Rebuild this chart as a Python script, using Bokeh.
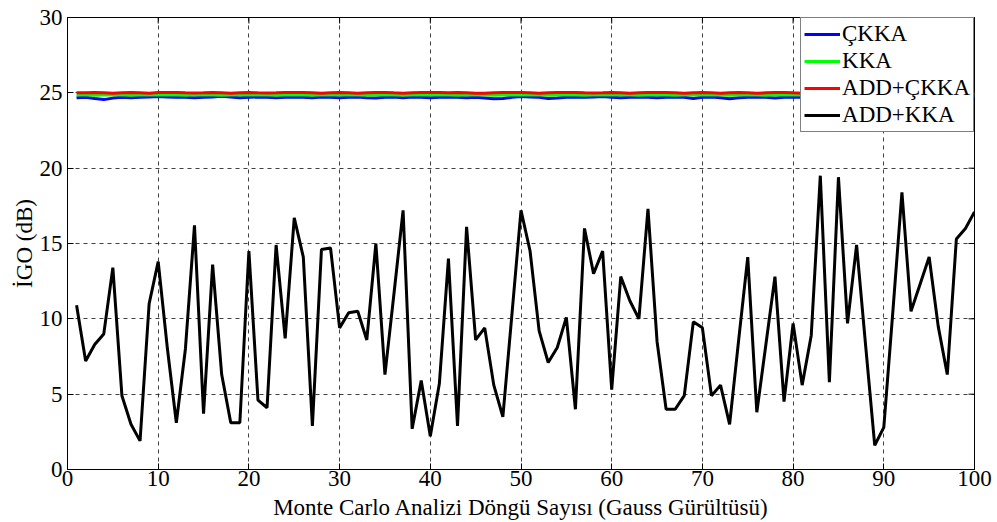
from bokeh.plotting import figure
from bokeh.models import Range1d, FixedTicker, Legend, LegendItem
from bokeh.embed import file_html
from bokeh.resources import INLINE
import math

x = list(range(1, 101))

ckka = [24.68, 24.7, 24.62, 24.55, 24.65, 24.7, 24.68, 24.7, 24.72, 24.75,
        24.72, 24.7, 24.7, 24.68, 24.7, 24.72, 24.78, 24.72, 24.68, 24.7,
        24.72, 24.7, 24.68, 24.7, 24.72, 24.7, 24.68, 24.72, 24.7, 24.68,
        24.7, 24.72, 24.68, 24.65, 24.7, 24.72, 24.68, 24.72, 24.7, 24.68,
        24.7, 24.72, 24.7, 24.68, 24.7, 24.65, 24.6, 24.62, 24.7, 24.75,
        24.72, 24.7, 24.62, 24.65, 24.7, 24.72, 24.7, 24.72, 24.75, 24.7,
        24.68, 24.7, 24.72, 24.7, 24.68, 24.7, 24.72, 24.7, 24.62, 24.7,
        24.72, 24.68, 24.6, 24.68, 24.7, 24.72, 24.7, 24.65, 24.7, 24.72,
        24.7, 24.68, 24.7, 24.72, 24.7, 24.68, 24.7, 24.72, 24.7, 24.7,
        24.7, 24.72, 24.7, 24.68, 24.7, 24.72, 24.7, 24.68, 24.7, 24.7]

kka = [24.85, 24.86, 24.84, 24.85, 24.86, 24.85, 24.84, 24.85, 24.86, 24.85,
       24.85, 24.86, 24.84, 24.85, 24.86, 24.85, 24.84, 24.85, 24.86, 24.85,
       24.85, 24.86, 24.84, 24.85, 24.86, 24.85, 24.84, 24.85, 24.86, 24.85,
       24.85, 24.86, 24.84, 24.85, 24.86, 24.85, 24.84, 24.85, 24.86, 24.85,
       24.85, 24.86, 24.84, 24.85, 24.86, 24.85, 24.84, 24.85, 24.86, 24.85,
       24.85, 24.86, 24.84, 24.85, 24.86, 24.85, 24.84, 24.85, 24.86, 24.85,
       24.85, 24.86, 24.84, 24.85, 24.86, 24.85, 24.84, 24.85, 24.86, 24.85,
       24.85, 24.86, 24.84, 24.85, 24.86, 24.85, 24.84, 24.85, 24.86, 24.85,
       24.85, 24.86, 24.84, 24.85, 24.86, 24.85, 24.84, 24.85, 24.86, 24.85,
       24.85, 24.86, 24.84, 24.85, 24.86, 24.85, 24.84, 24.85, 24.86, 24.85]

add_ckka = [25.0, 25.01, 25.02, 25.0, 24.98, 25.0, 25.02, 25.0, 24.98, 25.02,
            25.03, 25.02, 25.0, 24.99, 25.0, 25.02, 25.0, 24.98, 25.0, 25.02,
            25.0, 24.99, 25.0, 25.02, 25.03, 25.02, 25.0, 24.98, 25.0, 25.02,
            25.0, 24.98, 25.0, 25.02, 25.03, 25.0, 24.98, 25.0, 25.02, 25.03,
            25.02, 25.0, 25.02, 25.0, 24.98, 24.97, 25.0, 25.02, 25.03, 25.02,
            25.0, 24.98, 25.0, 25.02, 25.03, 25.02, 25.0, 24.99, 25.0, 25.02,
            25.0, 24.98, 25.0, 25.02, 25.03, 25.02, 25.0, 24.98, 25.0, 25.02,
            25.0, 24.98, 25.0, 25.02, 25.0, 24.98, 25.0, 25.02, 25.03, 25.0,
            24.98, 25.0, 25.02, 25.0, 24.98, 25.0, 25.02, 25.03, 25.02, 25.0,
            24.98, 25.0, 25.02, 25.0, 24.98, 25.0, 25.02, 25.0, 24.98, 25.0]

add_kka = [10.9, 7.2, 8.3, 9.0, 13.4, 4.9, 3.0, 1.9, 11.0, 13.8,
           8.1, 3.1, 8.0, 16.2, 3.7, 13.6, 6.3, 3.1, 3.1, 14.5,
           4.6, 4.1, 14.9, 8.7, 16.7, 14.1, 2.9, 14.6, 14.7, 9.4,
           10.4, 10.5, 8.6, 15.0, 6.3, 11.7, 17.2, 2.7, 5.9, 2.2,
           5.7, 14.0, 2.9, 16.1, 8.6, 9.4, 5.6, 3.5, 10.3, 17.2,
           14.5, 9.2, 7.1, 8.1, 10.1, 4.0, 16.0, 13.0, 14.5, 5.3,
           12.8, 11.2, 10.0, 17.3, 8.5, 4.0, 4.0, 4.9, 9.8, 9.4,
           4.9, 5.6, 3.0, 8.6, 14.1, 3.8, 8.3, 12.8, 4.5, 9.7,
           5.6, 8.9, 19.5, 5.8, 19.4, 9.7, 14.9, 8.2, 1.6, 2.8,
           10.5, 18.4, 10.5, 12.3, 14.1, 9.5, 6.3, 15.3, 16.0, 17.1]

labels = ["ÇKKA", "KKA", "ADD+ÇKKA", "ADD+KKA"]
colors = ["#0000ff", "#00ff00", "#ff0000", "#000000"]
x_ticks = [0, 10, 20, 30, 40, 50, 60, 70, 80, 90, 100]
y_ticks = [0, 5, 10, 15, 20, 25, 30]

FONT = "Liberation Serif"
FS = "23px"

p = figure(width=997, height=522, output_backend="svg", toolbar_location=None,
           x_range=Range1d(0, 100), y_range=Range1d(0, 30),
           min_border_left=67, min_border_right=23, min_border_top=17, min_border_bottom=53)
p.background_fill_color = "white"
p.border_fill_color = "white"
p.outline_line_color = "black"
p.outline_line_width = 1

p.xgrid.ticker = FixedTicker(ticks=x_ticks)
p.ygrid.ticker = FixedTicker(ticks=y_ticks)
for g in [p.xgrid[0], p.ygrid[0]]:
    g.grid_line_color = "black"
    g.grid_line_alpha = 0.75
    g.grid_line_dash = "4 4"
    g.grid_line_width = 1

# inward tick marks on the top and right edges (MATLAB box style)
p.scatter([100] * len(y_ticks), y_ticks, marker="dash", size=12, line_color="black", line_width=1)
p.scatter(x_ticks, [30] * len(x_ticks), marker="dash", size=12, angle=math.pi / 2,
          line_color="black", line_width=1)

renderers = []
for ys, c in zip([ckka, kka, add_ckka, add_kka], colors):
    r = p.line(x, ys, line_color=c, line_width=3)
    renderers.append(r)

for ax in [p.xaxis[0], p.yaxis[0]]:
    ax.major_tick_in = 6
    ax.major_tick_out = 0
    ax.minor_tick_in = 0
    ax.minor_tick_out = 0
    ax.major_label_text_font = FONT
    ax.major_label_text_font_size = FS
    ax.major_label_text_color = "black"
    ax.axis_label_text_font = FONT
    ax.axis_label_text_font_size = FS
    ax.axis_label_text_font_style = "normal"
    ax.axis_label_text_color = "black"
    ax.axis_line_color = "black"
    ax.major_tick_line_color = "black"

p.xaxis[0].ticker = FixedTicker(ticks=x_ticks)
p.yaxis[0].ticker = FixedTicker(ticks=y_ticks)
p.xaxis[0].axis_label = "Monte Carlo Analizi Döngü Sayısı (Gauss Gürültüsü)"
p.yaxis[0].axis_label = "İGO (dB)"
p.xaxis[0].major_label_standoff = 1
p.xaxis[0].axis_label_standoff = 6
p.yaxis[0].major_label_standoff = 5
p.yaxis[0].axis_label_standoff = 0

legend = Legend(items=[LegendItem(label=l, renderers=[r]) for l, r in zip(labels, renderers)],
                location="top_right")
legend.margin = 0
legend.padding = 3
legend.spacing = 1
legend.glyph_width = 36
legend.glyph_height = 26
legend.label_height = 26
legend.label_standoff = 2
legend.label_text_font = FONT
legend.label_text_font_size = "23px"
legend.label_text_color = "black"
legend.border_line_color = "black"
legend.border_line_width = 1
legend.background_fill_color = "white"
legend.background_fill_alpha = 1
p.add_layout(legend, "center")

open("out.html", "w").write(file_html(p, INLINE))
